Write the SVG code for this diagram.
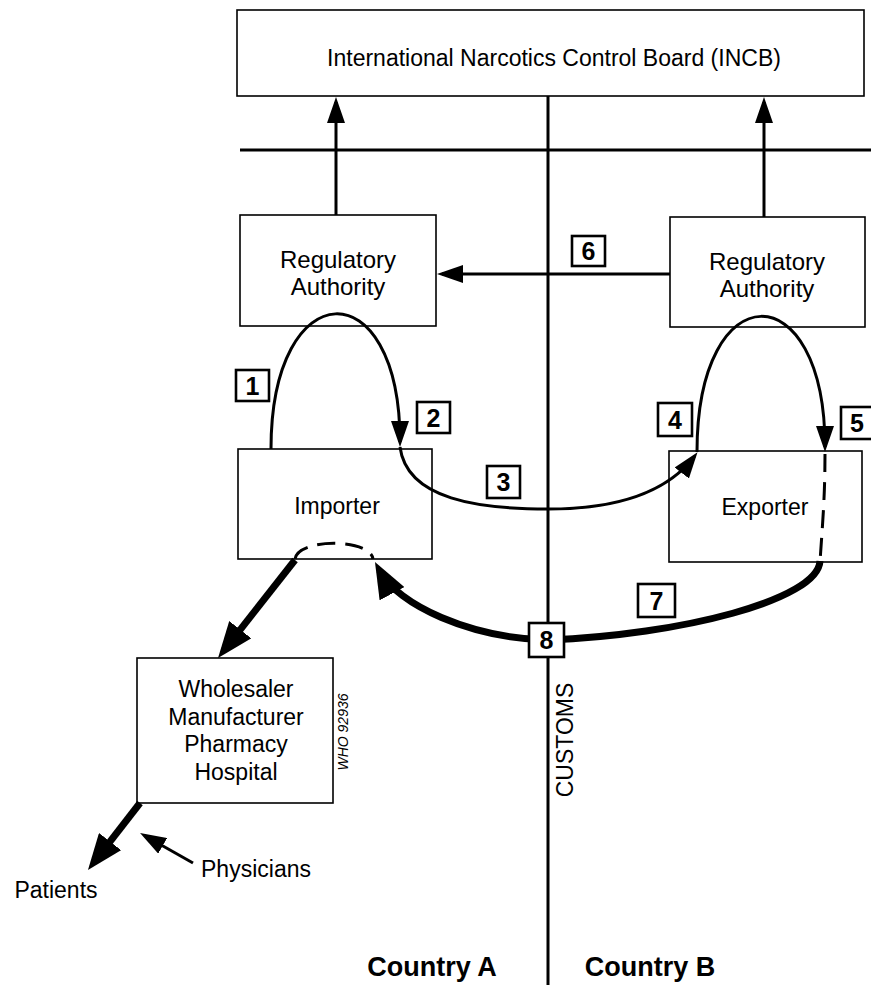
<svg xmlns="http://www.w3.org/2000/svg" width="871" height="985" viewBox="0 0 871 985">
<style>
  .box { fill: #fff; stroke: #000; stroke-width: 1.6; }
  .lbl { fill: #fff; stroke: #000; stroke-width: 2.6; }
  .t { font-family: "Liberation Sans", Arial, sans-serif; font-size: 23px; fill: #000; text-anchor: middle; }
  .r { font-size: 24px; }
  .n { font-family: "Liberation Sans", Arial, sans-serif; font-size: 25px; font-weight: bold; fill: #000; text-anchor: middle; }
  .c { font-family: "Liberation Sans", Arial, sans-serif; font-size: 27px; font-weight: bold; fill: #000; text-anchor: middle; }
  .ln { fill: none; stroke: #000; stroke-width: 3; }
  .thin { fill: none; stroke: #000; stroke-width: 3; marker-end: url(#ah); }
  .thick { fill: none; stroke: #000; stroke-width: 7; }
  .thickA { fill: none; stroke: #000; stroke-width: 7; marker-end: url(#ahT); }
  .dash { fill: none; stroke: #000; stroke-width: 3; stroke-dasharray: 18 10; }
</style>
<defs>
  <marker id="ah" markerUnits="userSpaceOnUse" viewBox="0 0 26 18" markerWidth="26" markerHeight="18" refX="21" refY="9" orient="auto">
    <path d="M0,0 L26,9 L0,18 z" fill="#000"/>
  </marker>
  <marker id="ahT" markerUnits="userSpaceOnUse" viewBox="0 0 36 28" markerWidth="36" markerHeight="28" refX="26" refY="14" orient="auto">
    <path d="M0,0 L36,14 L0,28 z" fill="#000"/>
  </marker>
</defs>
<rect width="871" height="985" fill="#fff"/>

<g id="structure">
  <line class="ln" x1="240" y1="150" x2="871" y2="150"/>
  <line class="ln" x1="548" y1="96" x2="548" y2="985"/>
</g>

<g id="incb">
  <rect class="box" x="237" y="10" width="627" height="86"/>
  <text class="t" x="554" y="66" font-size="24">International Narcotics Control Board (INCB)</text>
</g>
<g id="reg-a">
  <rect class="box" x="240" y="215" width="196" height="111"/>
  <text class="t r" x="338" y="268">Regulatory</text>
  <text class="t r" x="338" y="295">Authority</text>
</g>
<g id="reg-b">
  <rect class="box" x="670" y="217" width="195" height="110"/>
  <text class="t r" x="767" y="270">Regulatory</text>
  <text class="t r" x="767" y="297">Authority</text>
</g>
<g id="importer">
  <rect class="box" x="238" y="449" width="194" height="110"/>
  <text class="t" x="337" y="514">Importer</text>
</g>
<g id="exporter">
  <rect class="box" x="669" y="451" width="193" height="111"/>
  <text class="t" x="765" y="515">Exporter</text>
</g>
<g id="wholesaler">
  <rect class="box" x="137" y="658" width="196" height="145"/>
  <text class="t" x="236" y="697">Wholesaler</text>
  <text class="t" x="236" y="725">Manufacturer</text>
  <text class="t" x="236" y="752">Pharmacy</text>
  <text class="t" x="236" y="780">Hospital</text>
</g>
<g id="patients">
  <text class="t" x="56" y="898">Patients</text>
</g>
<g id="physicians">
  <text class="t" x="256" y="877">Physicians</text>
</g>

<g id="connectors">
  <path class="thin" d="M336,215 L336,102"/>
  <path class="thin" d="M764,217 L764,102"/>
  <path class="thin" d="M670,274 L442,274"/>
  <path class="thin" d="M271,449 C271,272 400,268 400,442"/>
  <path class="thin" d="M400,447 C407,500 480,509 548,509 C610,509 665,495 694.5,456.3"/>
  <path class="thin" d="M697,452 C697,272 825,272 825,447"/>
  <path class="dash" d="M825,454 C825,500 822,530 820,562"/>
  <path class="dash" d="M295,559 C298,538 370,538 373,559" stroke-dasharray="22 12"/>
  <path class="thick" d="M820,561 C818,600 680,635 548,640" stroke-width="6"/>
  <path class="thickA" d="M548,640 C470,638 398,605 379.7,570.8"/>
  <path class="thickA" d="M295,560 L224.2,650.1"/>
  <path class="thickA" d="M140,803 L94.1,862.1"/>
  <path class="thin" d="M193,863 L144.4,835.5"/>
</g>

<g id="labels">
  <rect class="lbl" x="236" y="370" width="33" height="31"/>
  <text class="n" x="252.5" y="394.5">1</text>
  <rect class="lbl" x="417" y="402" width="33" height="31"/>
  <text class="n" x="433.5" y="426.5">2</text>
  <rect class="lbl" x="487" y="466" width="33" height="32"/>
  <text class="n" x="503.5" y="491">3</text>
  <rect class="lbl" x="658" y="403" width="34" height="33"/>
  <text class="n" x="675" y="428.5">4</text>
  <rect class="lbl" x="841" y="407" width="32" height="32"/>
  <text class="n" x="857" y="432">5</text>
  <rect class="lbl" x="572" y="236" width="33" height="30"/>
  <text class="n" x="588.5" y="260">6</text>
  <rect class="lbl" x="638" y="584" width="37" height="33"/>
  <text class="n" x="656.5" y="609.5">7</text>
  <rect class="lbl" x="529" y="623" width="35" height="34"/>
  <text class="n" x="546.5" y="649">8</text>
</g>

<g id="customs">
  <text class="t" x="0" y="0" transform="translate(573,740) rotate(-90)">CUSTOMS</text>
</g>
<g id="who">
  <text x="0" y="0" transform="translate(348,732) rotate(-90)" font-family="Liberation Sans, Arial, sans-serif" font-size="14" font-style="italic" text-anchor="middle">WHO 92936</text>
</g>
<g id="countries">
  <text class="c" x="432" y="976">Country A</text>
  <text class="c" x="650" y="976">Country B</text>
</g>
</svg>
